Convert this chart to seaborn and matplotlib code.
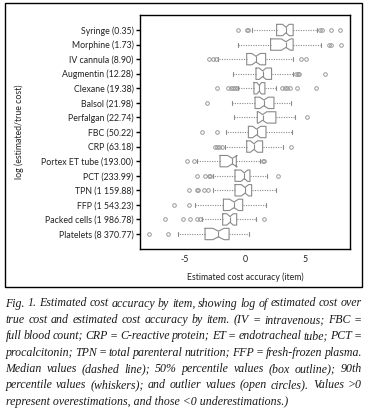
import numpy as np
import pandas as pd
import matplotlib
matplotlib.use("Agg")
import matplotlib.pyplot as plt
from matplotlib.patches import Rectangle
import seaborn as sns

# ---- data ----
items = ["Syringe (0.35)", "Morphine (1.73)", "IV cannula (8.90)", "Augmentin (12.28)",
         "Clexane (19.38)", "Balsol (21.98)", "Perfalgan (22.74)", "FBC (50.22)",
         "CRP (63.18)", "Portex ET tube (193.00)", "PCT (233.99)", "TPN (1 159.88)",
         "FFP (1 543.23)", "Packed cells (1 986.78)", "Platelets (8 370.77)"]
q1 = [2.62, 2.12, 0.14, 0.91, 0.74, 0.83, 1.02, 0.28, 0.14, -2.07, -0.83, -0.83, -1.79, -1.85, -3.31]
med = [3.39, 3.39, 0.91, 1.46, 1.18, 1.57, 1.46, 0.96, 0.74, -1.05, -0.06, 0.00, -0.91, -1.24, -2.20]
q3 = [3.99, 3.99, 1.71, 2.20, 1.65, 2.40, 2.56, 1.74, 1.46, -0.72, 0.41, 0.55, -0.19, -0.69, -1.32]
whisk_lo = [0.60, -0.61, -2.20, -0.96, -0.55, -1.05, -0.88, -1.60, -1.65, -3.95, -2.62, -2.67, -4.15, -3.55, -5.59]
whisk_hi = [6.00, 6.26, 3.94, 3.99, 2.56, 3.77, 4.13, 3.86, 3.11, 1.28, 1.79, 2.56, 1.74, 0.91, 0.36]
out_lo = [[-0.55, 0.15, 0.25], [], [-2.95, -2.65, -2.40], [],
          [-2.29, -1.38, -1.20, -1.00, -0.80, -0.69], [-3.11], [], [-3.53, -2.34],
          [-2.48, -2.30, -2.15, -1.93], [-4.82, -4.20], [-3.99, -3.30, -3.00, -2.90],
          [-4.68, -3.99, -3.90, -3.39, -3.03], [-5.92, -4.60],
          [-6.67, -5.15, -4.55, -3.99, -3.75], [-7.99, -6.35]]
out_hi = [[6.25, 6.35, 7.16, 7.85], [6.95, 7.10, 7.99], [4.60, 5.04], [4.25, 4.35, 4.45, 6.61],
          [3.05, 3.30, 3.50, 3.72, 4.27, 5.92], [], [5.10], [], [3.80], [1.45, 1.55],
          [2.70], [], [], [1.57], []]
n_obs = [60, 60, 50, 50, 60, 50, 50, 50, 50, 28, 50, 50, 45, 45, 45]

xticks = [-5, 0, 5]
xlabel = "Estimated cost accuracy (item)"
ylabel = "log (estimated/true cost)"
caption_lines = [
    "Fig. 1. Estimated cost accuracy by item, showing log of estimated cost over",
    "true cost and estimated cost accuracy by item. (IV = intravenous; FBC =",
    "full blood count; CRP = C-reactive protein; ET = endotracheal tube; PCT =",
    "procalcitonin; TPN = total parenteral nutrition; FFP = fresh-frozen plasma.",
    "Median values (dashed line); 50% percentile values (box outline); 90th",
    "percentile values (whiskers); and outlier values (open circles). Values >0",
    "represent overestimations, and those <0 underestimations.)",
]


def make_sample(a, m, b, wl, wh, lo, hi, n):
    """Build an observation set whose boxplot statistics equal the read values."""
    x = np.empty(n)
    k1, k2 = len(lo), len(hi)
    x[:k1] = sorted(lo)
    if k2:
        x[n - k2:] = sorted(hi)
    x[k1] = wl
    x[n - k2 - 1] = wh
    p25, p50 = (n - 1) * 0.25, (n - 1) * 0.5
    for i in range(k1 + 1, n - k2 - 1):
        if i <= np.ceil(p25):
            x[i] = a
        elif i <= np.ceil(p50):
            x[i] = m
        else:
            x[i] = b
    return x


rows = []
for i, name in enumerate(items):
    vals = make_sample(q1[i], med[i], q3[i], whisk_lo[i], whisk_hi[i], out_lo[i], out_hi[i], n_obs[i])
    rows += [(name, v) for v in vals]
df = pd.DataFrame(rows, columns=["item", "value"])

sns.set_style("white")
plt.rcParams["font.family"] = ["Lato", "DejaVu Sans"]

W, H = 369, 412
fig = plt.figure(figsize=(W / 100, H / 100), dpi=100)
ax = fig.add_axes([140 / W, 1 - 249 / H, 210 / W, 234 / H])

gray = "#8a8a8a"
sns.boxplot(data=df, x="value", y="item", order=items, orient="h", ax=ax,
            notch=True, fill=False, width=0.78, color=gray, linecolor=gray, linewidth=0.8,
            whis=1.5, capwidths=0.28,
            boxprops=dict(color=gray, linewidth=0.8),
            whiskerprops=dict(linestyle=(0, (1, 1.2)), color=gray, linewidth=0.8),
            capprops=dict(color=gray, linewidth=0.8),
            medianprops=dict(color=gray, linewidth=0.8),
            flierprops=dict(marker="o", markersize=2.6, markerfacecolor="none",
                            markeredgecolor="#999999", markeredgewidth=0.7))

ax.set_xlim(-8.7, 8.7)
ax.set_ylim(len(items) - 1 + 1.03, -1.03)
ax.set_xticks(xticks)
ax.set_xticklabels([str(t) for t in xticks])
for s in ax.spines.values():
    s.set_visible(True)
    s.set_color("black")
    s.set_linewidth(1.0)
ax.tick_params(axis="y", length=2.6, width=1.0, color="black", pad=2, labelsize=6.3, left=True)
ax.tick_params(axis="x", length=0, pad=4.5, labelsize=6.3)
for lab in ax.get_yticklabels() + ax.get_xticklabels():
    lab.set_color("#222222")
ax.set_xlabel(xlabel, fontsize=6.3, color="#222222")
ax.set_ylabel(ylabel, fontsize=6.3, color="#222222")
ax.xaxis.set_label_coords(0.5, (249 - 272) / 234)
ax.yaxis.set_label_coords((24 - 140) / 210, 0.5)

# outer frame
fig.patches.append(Rectangle((5 / W, 1 - 287 / H), 357 / W, 284 / H, transform=fig.transFigure,
                             fill=False, edgecolor="black", linewidth=1.0))

# justified caption
renderer = fig.canvas.get_renderer()
cap_kw = dict(family="Liberation Serif", style="italic", fontsize=8.6, color="#1a1a1a",
              va="baseline", ha="left")
x_left, x_right = 5.5, 362.0
for li, line in enumerate(caption_lines):
    y_px = 306.5 + 16.35 * li
    yf = 1 - y_px / H
    words = line.split(" ")
    if li == len(caption_lines) - 1:
        fig.text(x_left / W, yf, line, **cap_kw)
        continue
    texts = [fig.text(0, yf, w, **cap_kw) for w in words]
    widths = [t.get_window_extent(renderer).width for t in texts]
    gap = (x_right - x_left - sum(widths)) / (len(words) - 1)
    x = x_left
    for t, wdt in zip(texts, widths):
        t.set_x(x / W)
        x += wdt + gap

fig.savefig("out.png", dpi=100)
